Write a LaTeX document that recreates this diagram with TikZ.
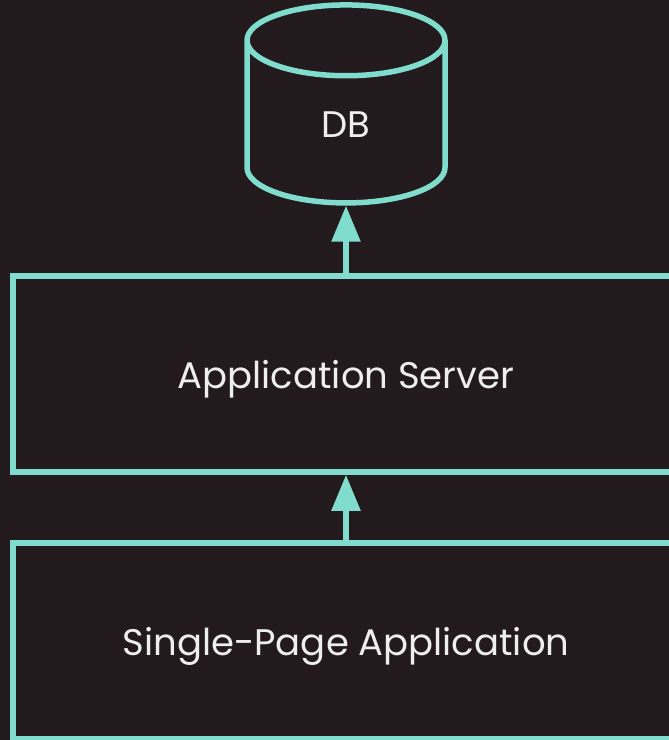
\documentclass[tikz,border=0pt]{standalone}
\usepackage{fontspec}
\setmainfont{Poppins}
\usetikzlibrary{shapes.geometric,arrows.meta}
\definecolor{bgdark}{HTML}{221A1D}
\definecolor{tealline}{HTML}{80DCCC}
\definecolor{labelgray}{HTML}{EEEEEE}
\tikzset{
  tier/.style={rectangle, draw=tealline, line width=5.5pt, text=labelgray,
    minimum width=666pt, minimum height=196pt, inner sep=0pt,
    text height=32pt, text depth=4pt, font=\fontsize{37}{44}\selectfont},
  store/.style={cylinder, shape border rotate=90, aspect=1.45, draw=tealline,
    line width=5.5pt, text=labelgray, minimum width=198pt, minimum height=198pt,
    inner sep=0pt, text height=32pt, text depth=4pt, font=\fontsize{37}{44}\selectfont},
  link/.style={draw=tealline, line width=5.5pt, -{Triangle[length=36pt,width=28pt]}}
}
\begin{document}
\begin{tikzpicture}[x=1pt,y=-1pt]
      \fill[bgdark] (0,0) rectangle (669,740);
      \clip (0,0) rectangle (669,740);
      \node[store] (db) at (346,123){DB};
      \node[tier] (appsrv) at (346,374){Application Server};
      \node[tier] (spa) at (346,641){Single-Page Application};
      \draw[link](appsrv) -- (db);
      \draw[link](spa) -- (appsrv);

    \end{tikzpicture}
\end{document}
